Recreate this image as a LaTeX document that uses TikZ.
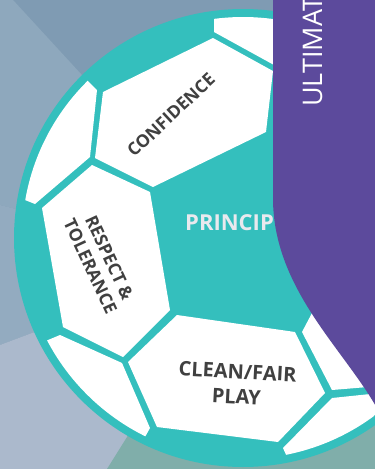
\documentclass[tikz,border=0pt]{standalone}
\usepackage{fontspec}
\setmainfont{Open Sans}
\definecolor{bgtop}{HTML}{7F9BB3}
\definecolor{bgleft}{HTML}{8EA8BD}
\definecolor{bgmid}{HTML}{93ABC0}
\definecolor{bglow}{HTML}{ABB9CC}
\definecolor{bgfloor}{HTML}{80AEAA}
\definecolor{ballteal}{HTML}{34BFBD}
\definecolor{panelpurple}{HTML}{5C4A9C}
\definecolor{labelgray}{HTML}{404040}
\definecolor{centerlabel}{HTML}{E9E9EE}
\begin{document}
\begin{tikzpicture}[x=1pt,y=-1pt,
  patch/.style={fill=white},
  patchlabel/.style={font=\bfseries\fontsize{17.5}{21}\selectfont, text=labelgray, align=center, inner sep=0pt},
]
\useasboundingbox (0,0) rectangle (375,469);

% background facets
\fill[bgtop] (0,0) rectangle (375,469);
\fill[bgleft] (0,0) -- (13,0) -- (160,160) -- (120,235) -- (0,205) -- cycle;
\fill[bgmid] (0,205) -- (120,235) -- (120,300) -- (0,345) -- cycle;
\fill[bglow] (0,345) -- (120,300) -- (200,272) -- (200,469) -- (0,469) -- cycle;
\fill[bgfloor] (107,469) -- (127,437) -- (160,384) -- (375,384) -- (375,469) -- cycle;

% ball body
\fill[ballteal] (243,238) circle[radius=229pt];
\begin{scope}
  \clip (243,238) circle[radius=221pt];
  % top patch
  \fill[patch] (214,32) -- (274,65) -- (330,40) -- (300,-10) -- (214,-10) -- cycle;
  % upper left patch
  \fill[patch] (97,90) -- (90,157) -- (35,204) -- (5,192) -- (10,60) -- (70,63) -- cycle;
  % confidence
  \fill[patch] (103,92) -- (213,38) -- (273,71) -- (266,132) -- (153,187) -- (95,158) -- cycle;
  % respect and tolerance
  \fill[patch] (42,208) -- (92,165) -- (150,192) -- (170,310) -- (123,357) -- (63,327) -- cycle;
  % lower left patch
  \fill[patch] (60,335) -- (122,363) -- (150,428) -- (140,446) -- (60,440) -- (20,360) -- (36,345) -- cycle;
  % clean / fair play
  \fill[patch] (177,315) -- (295,332) -- (325,393) -- (278,442) -- (157,427) -- (128,362) -- cycle;
  % right patch
  \fill[patch] (302,332) -- (332,390) -- (380,386) -- (400,300) -- (322,294) -- cycle;
  % lower right patch
  \fill[patch] (332,398) -- (380,393) -- (400,470) -- (293,470) -- (283,448) -- cycle;
\end{scope}

% patch labels
\node[patchlabel, rotate=43] (confidence) at (171,115) {CONFIDENCE};
\node[patchlabel, rotate=-65] (respect) at (100,262) {RESPECT \&\\TOLERANCE};
\node[patchlabel, font=\bfseries\fontsize{20}{25}\selectfont, rotate=-3] (cleanplay) at (237,384) {CLEAN/FAIR\\PLAY};
\node[font=\bfseries\fontsize{22}{26}\selectfont, text=centerlabel, anchor=west, inner sep=0pt] (principles) at (185,223) {PRINCIP};

% side panel
\fill[panelpurple] (273,-2) -- (273,200) .. controls (274,290) and (345,350) .. (378,410) -- (378,-2) -- cycle;
\node[font=\fontsize{27}{27}\selectfont, text=white, rotate=90, anchor=base west, inner sep=0pt] (ultimate) at (322,107) {ULTIMAT};
\end{tikzpicture}
\end{document}
